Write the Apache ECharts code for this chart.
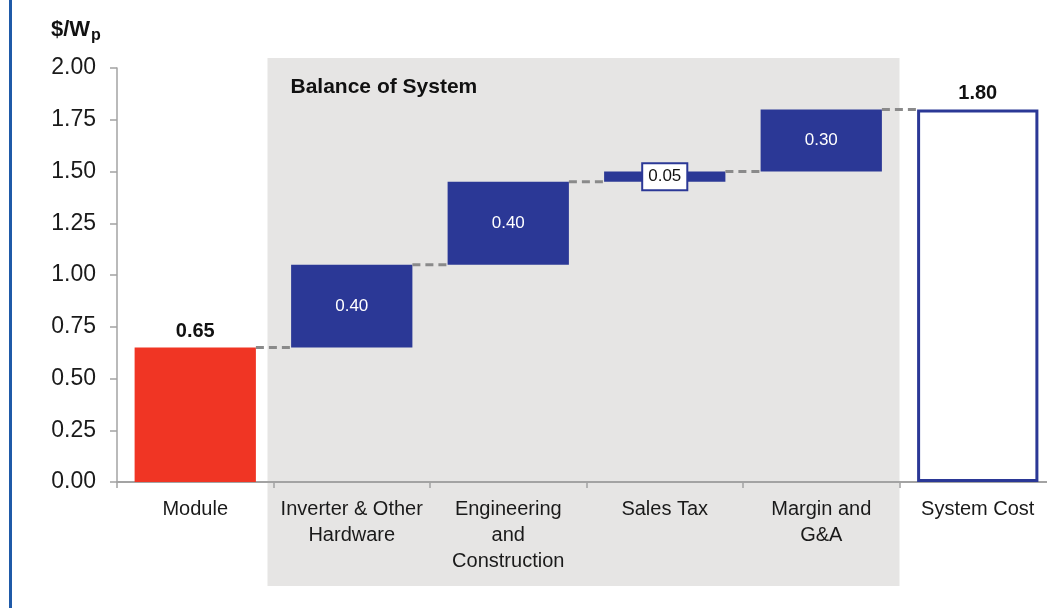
<!DOCTYPE html>
<html>
<head>
<meta charset="utf-8">
<script src="https://cdn.jsdelivr.net/npm/echarts@6/dist/echarts.min.js"></script>
<style>
  html, body { margin: 0; padding: 0; background: #fff; }
  #chart { width: 1047px; height: 608px; }
</style>
</head>
<body>
<div id="chart"></div>
<script>
  const categories = ['Module', 'Inverter & Other\nHardware', 'Engineering\nand\nConstruction', 'Sales Tax', 'Margin and\nG&A', 'System Cost']
  const baseValues = [0, 0.65, 1.05, 1.45, 1.50, 0]
  const stepValues = [0.65, 0.40, 0.40, 0.05, 0.30, 1.80]
  const yMin = 0
  const yMax = 2
  const yInterval = 0.25

  const BLUE = '#2b3896'
  const RED = '#f03524'
  const BOX = '#e6e5e4'
  const FONT = 'Liberation Sans, Arial, sans-serif'

  // connector levels: top of each bar, joined to the next one
  const tops = stepValues.map((v, i) => +(baseValues[i] + v).toFixed(2))
  const connectors = tops.slice(0, tops.length - 1).map((v, i) => [i, v])

  const chart = echarts.init(document.getElementById('chart'))

  const fmt = p => Number(p.value).toFixed(2)

  const itemFor = (v, i) => {
    if (i === 0) {
      return {
        value: v,
        itemStyle: { color: RED },
        label: { show: true, position: 'top', distance: 6, fontSize: 20, fontWeight: 'bold', color: '#111', formatter: fmt }
      }
    }
    if (i === stepValues.length - 1) {
      return {
        value: v,
        itemStyle: { color: '#fff', borderColor: BLUE, borderWidth: 3 },
        label: { show: true, position: 'top', distance: 6, fontSize: 20, fontWeight: 'bold', color: '#111', formatter: fmt }
      }
    }
    if (v < 0.1) {
      return {
        value: v,
        itemStyle: { color: BLUE },
        label: {
          show: true, position: 'inside', fontSize: 17, color: '#111', formatter: fmt,
          backgroundColor: '#fff', borderColor: BLUE, borderWidth: 2, padding: [5, 5, 3, 5]
        }
      }
    }
    return {
      value: v,
      itemStyle: { color: BLUE },
      label: { show: true, position: 'inside', fontSize: 17, color: '#fff', formatter: fmt }
    }
  }

  const option = {
    animation: false,
    textStyle: { fontFamily: FONT },
    title: {
      left: 46,
      top: 10,
      text: '{a|$/W}{b|p}',
      textStyle: {
        rich: {
          a: { fontSize: 22, fontWeight: 'bold', color: '#111', fontFamily: FONT },
          b: { fontSize: 16, fontWeight: 'bold', color: '#111', fontFamily: FONT, padding: [13, 0, 0, 1] }
        }
      }
    },
    grid: { left: 117, width: 939, top: 68, bottom: 126, containLabel: false, outerBoundsMode: 'none' },
    xAxis: {
      type: 'category',
      data: categories,
      axisLine: { lineStyle: { color: '#a3a3a3', width: 2 } },
      axisTick: { show: true, length: 6, lineStyle: { color: '#a3a3a3', width: 1.5 } },
      axisLabel: { interval: 0, fontSize: 20, lineHeight: 26, color: '#1a1a1a', margin: 14 }
    },
    yAxis: {
      type: 'value',
      min: yMin,
      max: yMax,
      interval: yInterval,
      axisLine: { show: true, lineStyle: { color: '#a3a3a3', width: 1.5 } },
      axisTick: { show: true, length: 7, lineStyle: { color: '#a3a3a3', width: 1.5 } },
      splitLine: { show: false },
      axisLabel: { fontSize: 23, color: '#1a1a1a', margin: 21, formatter: v => v.toFixed(2) }
    },
    series: [
      {
        name: 'base',
        type: 'bar',
        stack: 'w',
        silent: true,
        barWidth: '77.5%',
        itemStyle: { color: 'transparent' },
        data: baseValues
      },
      {
        name: 'step',
        type: 'bar',
        stack: 'w',
        barWidth: '77.5%',
        data: stepValues.map(itemFor)
      },
      {
        name: 'connector',
        type: 'custom',
        silent: true,
        z: 3,
        data: connectors,
        renderItem(params, api) {
          const i = api.value(0)
          const y = api.value(1)
          const p0 = api.coord([i, y])
          const p1 = api.coord([i + 1, y])
          const half = api.size([1, 0])[0] * 0.775 / 2
          return {
            type: 'line',
            shape: { x1: p0[0] + half, y1: p0[1], x2: p1[0] - half, y2: p1[1] },
            style: { stroke: '#8a8a8a', lineWidth: 3, lineDash: [8, 5] }
          }
        }
      }
    ]
  }

  chart.setOption(option)

  // shaded "Balance of System" band, placed from the category axis
  const c1 = chart.convertToPixel({ xAxisIndex: 0 }, 1)
  const c2 = chart.convertToPixel({ xAxisIndex: 0 }, 2)
  const c4 = chart.convertToPixel({ xAxisIndex: 0 }, 4)
  const band = c2 - c1
  const boxLeft = c1 - band / 2 - 6
  const boxRight = c4 + band / 2

  chart.setOption({
    graphic: [
      {
        type: 'rect',
        z: -10,
        shape: { x: boxLeft, y: 58, width: boxRight - boxLeft, height: 528 },
        style: { fill: BOX }
      },
      {
        type: 'text',
        z: 5,
        x: boxLeft + 23,
        y: 77,
        style: { text: 'Balance of System', fontSize: 21, fontWeight: 'bold', fill: '#111', fontFamily: FONT }
      },
      {
        type: 'rect',
        z: 5,
        shape: { x: 9, y: 0, width: 3, height: 608 },
        style: { fill: '#1f5aa8' }
      }
    ]
  })
</script>
</body>
</html>
